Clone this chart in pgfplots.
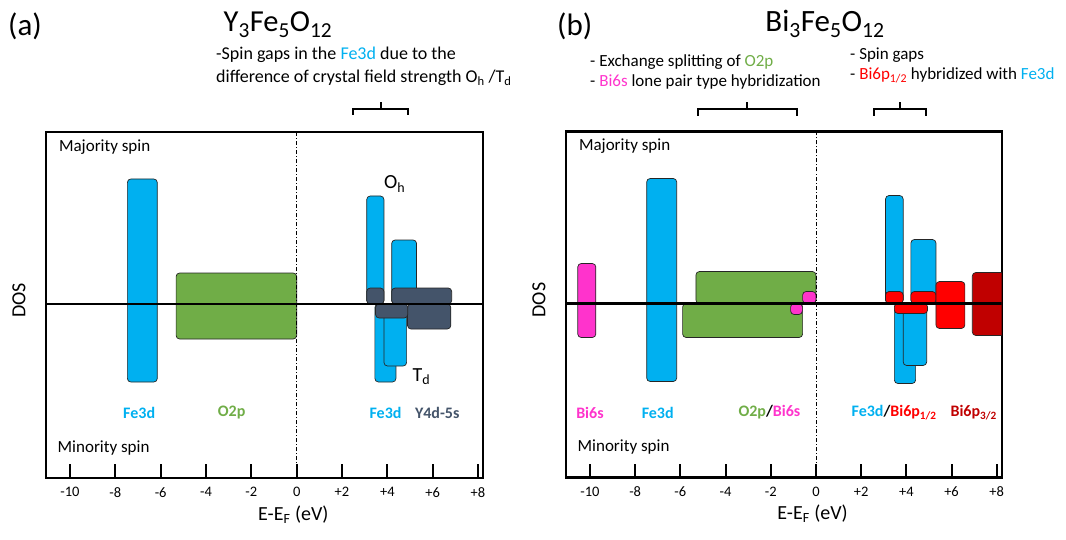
\documentclass[border=0pt]{standalone}
\usepackage{pgfplots}
\pgfplotsset{compat=1.18}
\usepackage{fontspec}
\setmainfont{Carlito}
\definecolor{cFe}{HTML}{00B0F0}
\definecolor{cO}{HTML}{70AD47}
\definecolor{cY}{HTML}{44546A}
\definecolor{cBs}{HTML}{FF33CC}
\definecolor{cBp}{HTML}{FF0000}
\definecolor{cBq}{HTML}{C00000}
\newcommand{\fs}[1]{\fontsize{#1}{#1}\selectfont}
\pgfplotsset{
  dosaxis/.style={
    scale only axis, height=346pt, anchor=south west,
    xmin=-11.06, xmax=8.22, ymin=-17.4, ymax=17.2,
    xtick={-10,-8,-6,-4,-2,0,2,4,6,8},
    xticklabels={-10,-8,-6,-4,-2,0,+2,+4,+6,+8},
    ytick=\empty, xtick pos=left, tick align=inside,
    major tick length=14pt,
    tick style={black, line width=2pt},
    axis line style={line width=2.4pt},
    tick label style={font=\fs{14.5}},
    xticklabel style={yshift=-6pt},
    xlabel={E-E\textsubscript{F} (eV)},
    every axis x label/.style={at={(axis description cs:0.566,0)}, anchor=north, yshift=-24pt, font=\fs{20}},
    ylabel={DOS},
    every axis y label/.style={at={(axis description cs:-0.062,0.513)}, rotate=90, anchor=center, font=\fs{20}},
  },
  blk/.style={draw=black!85, line width=0.7pt, /tikz/rounded corners=3.5pt},
}
\begin{document}
\begin{tikzpicture}
\useasboundingbox (0,0) rectangle (1066pt,539pt);
% ---------------- panel (a)
\begin{axis}[dosaxis, at={(46pt,61pt)}, width=437pt]
\addplot[blk, fill=cFe] coordinates {(-7.47,-7.8) (-7.47,12.5) (-6.15,12.5) (-6.15,-7.8)} -- cycle;
\addplot[blk, fill=cO] coordinates {(-5.32,-3.5) (-5.32,3.1) (0,3.1) (0,-3.5)} -- cycle;
\addplot[blk, fill=cFe] coordinates {(3.09,0) (3.09,10.8) (3.85,10.8) (3.85,0)} -- cycle;
\addplot[blk, fill=cFe] coordinates {(4.19,0) (4.19,6.4) (5.29,6.4) (5.29,0)} -- cycle;
\addplot[blk, fill=cFe] coordinates {(3.45,-7.8) (3.45,0) (4.38,0) (4.38,-7.8)} -- cycle;
\addplot[blk, fill=cFe] coordinates {(3.85,-6.2) (3.85,0) (4.85,0) (4.85,-6.2)} -- cycle;
\addplot[blk, fill=cY] coordinates {(3.09,0) (3.09,1.6) (3.85,1.6) (3.85,0)} -- cycle;
\addplot[blk, fill=cY] coordinates {(4.19,0) (4.19,1.6) (6.84,1.6) (6.84,0)} -- cycle;
\addplot[blk, fill=cY] coordinates {(4.89,-2.5) (4.89,0) (6.8,0) (6.8,-2.5)} -- cycle;
\addplot[blk, fill=cY] coordinates {(3.48,-1.4) (3.48,0) (4.9,0) (4.9,-1.4)} -- cycle;
\addplot[black, line width=0.6pt, dash pattern=on 4pt off 2pt on 1pt off 2pt] coordinates {(0,-17.4) (0,17.2)};
\addplot[black, line width=2.2pt] coordinates {(-11.06,0) (8.22,0)};
\node[anchor=west, font=\fs{17}] at (axis cs:-10.64,15.7) {Majority spin};
\node[anchor=west, font=\fs{17}] at (axis cs:-10.7,-14.4) {Minority spin};
\node[font=\fs{16}\bfseries, text=cFe] at (axis cs:-6.95,-10.9) {Fe3d};
\node[font=\fs{16}\bfseries, text=cO] at (axis cs:-2.87,-10.9) {O2p};
\node[font=\fs{16}\bfseries, text=cFe] at (axis cs:3.92,-10.9) {Fe3d};
\node[font=\fs{16}\bfseries, text=cY] at (axis cs:6.2,-10.9) {Y4d-5s};
\node[anchor=west, font=\fs{20}, inner sep=0pt] at (axis cs:3.85,12.0) {O\textsubscript{h}};
\node[anchor=west, font=\fs{20}, inner sep=0pt] at (axis cs:5.11,-7.3) {T\textsubscript{d}};
\end{axis}
% ---------------- panel (b)
\begin{axis}[dosaxis, at={(566pt,61.5pt)}, width=435.7pt]
\addplot[blk, fill=cBs] coordinates {(-10.54,-3.4) (-10.54,4.0) (-9.74,4.0) (-9.74,-3.4)} -- cycle;
\addplot[blk, fill=cFe] coordinates {(-7.49,-7.8) (-7.49,12.5) (-6.16,12.5) (-6.16,-7.8)} -- cycle;
\addplot[blk, fill=cO] coordinates {(-5.31,0) (-5.31,3.2) (0,3.2) (0,0)} -- cycle;
\addplot[blk, fill=cO] coordinates {(-5.9,-3.4) (-5.9,0) (-0.59,0) (-0.59,-3.4)} -- cycle;
\addplot[blk, fill=cBs] coordinates {(-0.59,0) (-0.59,1.2) (0,1.2) (0,0)} -- cycle;
\addplot[blk, fill=cBs] coordinates {(-1.12,-1.1) (-1.12,0) (-0.6,0) (-0.6,-1.1)} -- cycle;
\addplot[blk, fill=cFe] coordinates {(3.08,0) (3.08,10.8) (3.86,10.8) (3.86,0)} -- cycle;
\addplot[blk, fill=cFe] coordinates {(4.2,0) (4.2,6.4) (5.31,6.4) (5.31,0)} -- cycle;
\addplot[blk, fill=cFe] coordinates {(3.47,-8.0) (3.47,0) (4.41,0) (4.41,-8.0)} -- cycle;
\addplot[blk, fill=cFe] coordinates {(3.86,-6.2) (3.86,0) (4.9,0) (4.9,-6.2)} -- cycle;
\addplot[blk, fill=cBp] coordinates {(3.08,0) (3.08,1.2) (3.86,1.2) (3.86,0)} -- cycle;
\addplot[blk, fill=cBp] coordinates {(4.2,0) (4.2,1.2) (5.31,1.2) (5.31,0)} -- cycle;
\addplot[blk, fill=cBp] coordinates {(3.47,-1.0) (3.47,0) (4.94,0) (4.94,-1.0)} -- cycle;
\addplot[blk, fill=cBp] coordinates {(5.31,-2.5) (5.31,2.2) (6.59,2.2) (6.59,-2.5)} -- cycle;
\addplot[blk, fill=cBq] coordinates {(6.92,-3.2) (6.92,3.1) (8.35,3.1) (8.35,-3.2)} -- cycle;
\addplot[black, line width=0.6pt, dash pattern=on 4pt off 2pt on 1pt off 2pt] coordinates {(0,-17.4) (0,17.2)};
\addplot[black, line width=2.2pt] coordinates {(-11.06,0) (8.22,0)};
\node[anchor=west, font=\fs{17}] at (axis cs:-10.64,15.7) {Majority spin};
\node[anchor=west, font=\fs{17}] at (axis cs:-10.7,-14.4) {Minority spin};
\node[font=\fs{16}\bfseries, text=cBs] at (axis cs:-10.0,-10.9) {Bi6s};
\node[font=\fs{16}\bfseries, text=cFe] at (axis cs:-7.0,-10.9) {Fe3d};
\node[font=\fs{16}\bfseries] at (axis cs:-2.06,-10.9) {\textcolor{cO}{O2p}/\textcolor{cBs}{Bi6s}};
\node[font=\fs{16}\bfseries] at (axis cs:3.46,-10.9) {\textcolor{cFe}{Fe3d}/\textcolor{cBp}{Bi6p\textsubscript{1/2}}};
\node[font=\fs{16}\bfseries, text=cBq] at (axis cs:6.98,-10.9) {Bi6p\textsubscript{3/2}};
\end{axis}
% ---------------- titles and annotations
\node[anchor=base west, font=\fs{31}, inner sep=0pt] at (8pt,503pt) {(a)};
\node[anchor=base, font=\fs{30.5}, inner sep=0pt] at (278pt,507pt) {Y\textsubscript{3}Fe\textsubscript{5}O\textsubscript{12}};
\node[anchor=base west, font=\fs{18}, inner sep=0pt] at (216pt,479pt) {-Spin gaps in the \textcolor{cFe}{Fe3d} due to the};
\node[anchor=base west, font=\fs{18}, inner sep=0pt] at (216pt,456pt) {difference of crystal field strength O\textsubscript{h} /T\textsubscript{d}};
\draw[line width=1.8pt] (353pt,424pt) -- (353pt,430pt) -- (408pt,430pt) -- (408pt,424pt);
\draw[line width=1.8pt] (381pt,430pt) -- (381pt,437pt);
\node[anchor=base west, font=\fs{31}, inner sep=0pt] at (557pt,503pt) {(b)};
\node[anchor=base, font=\fs{31}, inner sep=0pt] at (825pt,507pt) {Bi\textsubscript{3}Fe\textsubscript{5}O\textsubscript{12}};
\node[anchor=base west, font=\fs{17}, inner sep=0pt] at (590pt,472pt) {- Exchange splitting of \textcolor{cO}{O2p}};
\node[anchor=base west, font=\fs{17}, inner sep=0pt] at (590pt,452pt) {- \textcolor{cBs}{Bi6s} lone pair type hybridization};
\node[anchor=base west, font=\fs{17}, inner sep=0pt] at (850pt,479pt) {- Spin gaps};
\node[anchor=base west, font=\fs{17}, inner sep=0pt] at (850pt,459pt) {- \textcolor{cBp}{Bi6p\textsubscript{1/2}} hybridized with \textcolor{cFe}{Fe3d}};
\draw[line width=1.8pt] (698pt,423pt) -- (698pt,430pt) -- (797pt,430pt) -- (797pt,423pt);
\draw[line width=1.8pt] (747pt,430pt) -- (747pt,437pt);
\draw[line width=1.8pt] (874pt,423pt) -- (874pt,430pt) -- (926pt,430pt) -- (926pt,423pt);
\draw[line width=1.8pt] (900pt,430pt) -- (900pt,437pt);
\end{tikzpicture}
\end{document}
